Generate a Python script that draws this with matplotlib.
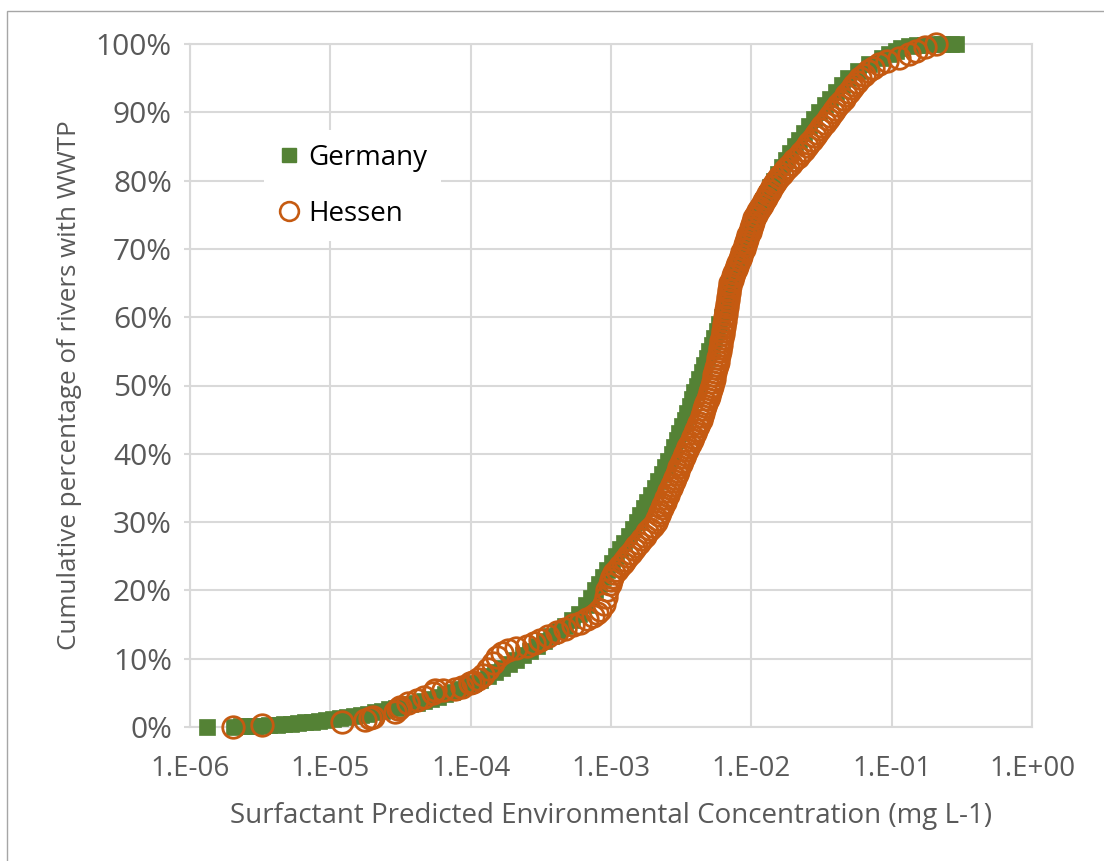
import numpy as np
import matplotlib
matplotlib.use("Agg")
import matplotlib.pyplot as plt
from matplotlib.ticker import FixedLocator, FuncFormatter, PercentFormatter, NullLocator
from matplotlib.lines import Line2D
from matplotlib.patches import Rectangle

# cumulative distribution of surfactant PEC, log10(mg/L) vs cumulative % of rivers
germany_log_pec = [
    -5.88, -5.69, -5.64, -5.59, -5.54, -5.49, -5.44, -5.38,
    -5.33, -5.28, -5.23, -5.18, -5.13, -5.08, -5.03, -4.98,
    -4.93, -4.88, -4.83, -4.78, -4.73, -4.68, -4.63, -4.58,
    -4.53, -4.48, -4.43, -4.38, -4.33, -4.28, -4.23, -4.18,
    -4.13, -4.08, -4.03, -3.98, -3.93, -3.88, -3.83, -3.78,
    -3.73, -3.68, -3.63, -3.58, -3.53, -3.48, -3.43, -3.38,
    -3.33, -3.28, -3.23, -3.18, -3.145,
    -3.115, -3.085, -3.055, -3.025, -2.995, -2.965, -2.935, -2.905,
    -2.875, -2.845, -2.816, -2.790, -2.765, -2.740, -2.715, -2.690,
    -2.665, -2.640, -2.615, -2.591, -2.567, -2.548, -2.530, -2.512,
    -2.494, -2.476, -2.458, -2.440, -2.423, -2.406, -2.389, -2.371,
    -2.353, -2.335, -2.317, -2.299, -2.281, -2.263, -2.246, -2.229,
    -2.211, -2.197, -2.183, -2.169, -2.155, -2.141, -2.127, -2.113,
    -2.098, -2.084, -2.068, -2.048, -2.028, -2.007, -1.985, -1.962,
    -1.939, -1.915, -1.891, -1.866, -1.840, -1.812, -1.783, -1.753,
    -1.722, -1.690, -1.657, -1.623, -1.588, -1.552, -1.515, -1.476,
    -1.436, -1.395, -1.352, -1.310,
    -1.24, -1.16, -1.07, -1.02, -0.97, -0.93, -0.88, -0.82,
    -0.76, -0.70, -0.64, -0.58, -0.54,
]
germany_pct = [
    0.00, 0.05, 0.08, 0.12, 0.16, 0.21, 0.26, 0.33,
    0.40, 0.48, 0.58, 0.69, 0.80, 0.91, 1.03, 1.15,
    1.29, 1.44, 1.60, 1.78, 1.97, 2.17, 2.38, 2.59,
    2.81, 3.05, 3.30, 3.56, 3.83, 4.11, 4.43, 4.78,
    5.15, 5.55, 5.97, 6.40, 6.90, 7.45, 8.00, 8.60,
    9.20, 9.85, 10.5, 11.2, 11.9, 12.6, 13.3, 14.0,
    14.8, 15.7, 16.6, 17.8, 18.9,
    20, 21, 22, 23, 24, 25, 26, 27,
    28, 29, 30, 31, 32, 33, 34, 35,
    36, 37, 38, 39, 40, 41, 42, 43,
    44, 45, 46, 47, 48, 49, 50, 51,
    52, 53, 54, 55, 56, 57, 58, 59,
    60, 61, 62, 63, 64, 65, 66, 67,
    68, 69, 70, 71, 72, 73, 74, 75,
    76, 77, 78, 79, 80, 81, 82, 83,
    84, 85, 86, 87, 88, 89, 90, 91,
    92, 93, 94, 95,
    96, 97, 98, 98.5, 99, 99.4, 99.7, 99.85,
    99.92, 99.96, 99.98, 100, 100,
]

hessen_log_pec = [
    -5.694, -5.485, -4.92, -4.75, -4.718, -4.697, -4.54, -4.52,
    -4.504, -4.447, -4.385, -4.33, -4.269, -4.255, -4.20, -4.113,
    -4.065, -4.004, -3.984, -3.95, -3.913, -3.88, -3.842, -3.813,
    -3.78, -3.735, -3.68, -3.60, -3.55, -3.507, -3.45, -3.386,
    -3.33, -3.272, -3.222, -3.17, -3.13, -3.10, -3.08, -3.05,
    -3.035, -3.025, -3.01, -3.00,
    -2.995, -2.976, -2.956, -2.937, -2.917, -2.898, -2.878, -2.859,
    -2.839, -2.820, -2.800, -2.780, -2.760, -2.740, -2.720, -2.700,
    -2.681, -2.670, -2.660, -2.649, -2.638, -2.628, -2.618, -2.607,
    -2.596, -2.586, -2.575, -2.565, -2.554, -2.544, -2.533, -2.523,
    -2.512, -2.501, -2.491, -2.480, -2.470, -2.459, -2.448, -2.437,
    -2.426, -2.415, -2.404, -2.393, -2.382, -2.371, -2.360, -2.352,
    -2.344, -2.336, -2.328, -2.320, -2.312, -2.304, -2.296, -2.288,
    -2.280, -2.274, -2.269, -2.263, -2.258, -2.252, -2.247, -2.241,
    -2.236, -2.230, -2.225, -2.221, -2.217, -2.213, -2.209, -2.205,
    -2.201, -2.197, -2.193, -2.189, -2.185, -2.181, -2.178, -2.174,
    -2.171, -2.167, -2.164, -2.160, -2.157, -2.153, -2.150, -2.140,
    -2.131, -2.121, -2.112, -2.102, -2.093, -2.083, -2.074, -2.064,
    -2.055, -2.047, -2.038, -2.030, -2.021, -2.013, -2.004, -1.996,
    -1.987, -1.979, -1.970, -1.956, -1.941, -1.927, -1.912, -1.898,
    -1.884, -1.869, -1.855, -1.840, -1.826, -1.804, -1.782, -1.760,
    -1.738, -1.716, -1.693, -1.671, -1.649, -1.627, -1.605, -1.586,
    -1.568, -1.549, -1.531, -1.512, -1.494, -1.476, -1.457, -1.439,
    -1.420, -1.401, -1.382, -1.362, -1.343, -1.324, -1.305, -1.286,
    -1.266, -1.247, -1.228,
    -1.20, -1.17, -1.13, -1.09, -1.03, -0.95, -0.88, -0.825,
    -0.76, -0.682,
]
hessen_pct = [
    0.0, 0.3, 0.7, 1.0, 1.3, 1.5, 2.2, 2.6,
    3.0, 3.5, 4.0, 4.4, 5.0, 5.4, 5.45, 5.55,
    5.9, 6.4, 6.6, 7.0, 7.6, 8.5, 9.4, 10.3,
    10.8, 11.3, 11.5, 11.8, 12.3, 12.8, 13.3, 13.9,
    14.4, 14.9, 15.3, 15.8, 16.2, 16.7, 17.1, 18.0,
    19.0, 20.0, 21.0, 21.5,
    22.0, 22.5, 23.0, 23.5, 24.0, 24.5, 25.0, 25.5,
    26.0, 26.5, 27.0, 27.5, 28.0, 28.5, 29.0, 29.5,
    30.0, 30.5, 31.0, 31.5, 32.0, 32.5, 33.0, 33.5,
    34.0, 34.5, 35.0, 35.5, 36.0, 36.5, 37.0, 37.5,
    38.0, 38.5, 39.0, 39.5, 40.0, 40.5, 41.0, 41.5,
    42.0, 42.5, 43.0, 43.5, 44.0, 44.5, 45.0, 45.5,
    46.0, 46.5, 47.0, 47.5, 48.0, 48.5, 49.0, 49.5,
    50.0, 50.5, 51.0, 51.5, 52.0, 52.5, 53.0, 53.5,
    54.0, 54.5, 55.0, 55.5, 56.0, 56.5, 57.0, 57.5,
    58.0, 58.5, 59.0, 59.5, 60.0, 60.5, 61.0, 61.5,
    62.0, 62.5, 63.0, 63.5, 64.0, 64.5, 65.0, 65.5,
    66.0, 66.5, 67.0, 67.5, 68.0, 68.5, 69.0, 69.5,
    70.0, 70.5, 71.0, 71.5, 72.0, 72.5, 73.0, 73.5,
    74.0, 74.5, 75.0, 75.5, 76.0, 76.5, 77.0, 77.5,
    78.0, 78.5, 79.0, 79.5, 80.0, 80.5, 81.0, 81.5,
    82.0, 82.5, 83.0, 83.5, 84.0, 84.5, 85.0, 85.5,
    86.0, 86.5, 87.0, 87.5, 88.0, 88.5, 89.0, 89.5,
    90.0, 90.5, 91.0, 91.5, 92.0, 92.5, 93.0, 93.5,
    94.0, 94.5, 95.0,
    95.5, 96.0, 96.5, 97.0, 97.5, 98.0, 98.5, 99.0,
    99.5, 100.0,
]

x_ticks = [1e-6, 1e-5, 1e-4, 1e-3, 1e-2, 1e-1, 1e0]
y_ticks = [0, 10, 20, 30, 40, 50, 60, 70, 80, 90, 100]

green = "#548235"
orange = "#C55A11"
grid_grey = "#D9D9D9"
text_grey = "#595959"

plt.rcParams["font.family"] = ["Open Sans", "DejaVu Sans"]

W, H = 1104, 861
fig = plt.figure(figsize=(W / 100, H / 100), dpi=100)
ax = fig.add_axes([190 / W, (H - 727) / H, (1032 - 190) / W, (727 - 44) / H])

ax.plot(10 ** np.array(germany_log_pec), germany_pct, linestyle="none",
        marker="s", ms=11, mfc=green, mec=green, mew=0.5,
        clip_on=False, zorder=3, label="Germany")
ax.plot(10 ** np.array(hessen_log_pec), hessen_pct, linestyle="none",
        marker="o", ms=15.5, mfc="none", mec=orange, mew=2.0,
        clip_on=False, zorder=4, label="Hessen")

ax.set_xscale("log")
ax.set_xlim(1e-6, 1)
ax.set_ylim(0, 100)
ax.xaxis.set_major_locator(FixedLocator(x_ticks))
ax.xaxis.set_minor_locator(NullLocator())
ax.yaxis.set_major_locator(FixedLocator(y_ticks))
ax.xaxis.set_major_formatter(FuncFormatter(
    lambda v, pos: "1.E{:+03d}".format(int(round(np.log10(v))))))
ax.yaxis.set_major_formatter(PercentFormatter(100, decimals=0))

ax.grid(True, color=grid_grey, lw=1.5, zorder=0)
ax.set_axisbelow(True)
for side in ["left", "right", "top", "bottom"]:
    ax.spines[side].set_color(grid_grey)
    ax.spines[side].set_linewidth(1.5)

ax.tick_params(axis="y", length=4, width=1.5, color=grid_grey,
               labelsize=21.5, labelcolor=text_grey, pad=9)
ax.tick_params(axis="x", length=0, labelsize=20, labelcolor=text_grey, pad=20)

ax.set_xlabel("Surfactant Predicted Environmental Concentration (mg L-1)",
              fontsize=20, color=text_grey, labelpad=14)
ax.set_ylabel("Cumulative percentage of rivers with WWTP",
              fontsize=18.7, color=text_grey, labelpad=10)

handles = [
    Line2D([], [], linestyle="none", marker="s", ms=9.5, mfc=green, mec=green),
    Line2D([], [], linestyle="none", marker="o", ms=13.5, mfc="none",
           mec=orange, mew=1.9),
]
leg = ax.legend(handles, ["Germany", "Hessen"], loc="upper left",
                bbox_to_anchor=((250 - 190) / 842, (727 - 116) / 683),
                fontsize=20, frameon=True, fancybox=False, framealpha=1,
                facecolor="white", edgecolor="none", handlelength=0.8,
                handletextpad=0.3, labelspacing=1.0, borderpad=0.5)
for t in leg.get_texts():
    t.set_color("black")

# thin frame around the chart area
fig.patches.append(Rectangle((7 / W, -0.05), 1.2, 1 - 11 / H + 0.05,
                             transform=fig.transFigure, fill=False,
                             ec="#A6A6A6", lw=1.0))

fig.savefig("out.png", dpi=100)
